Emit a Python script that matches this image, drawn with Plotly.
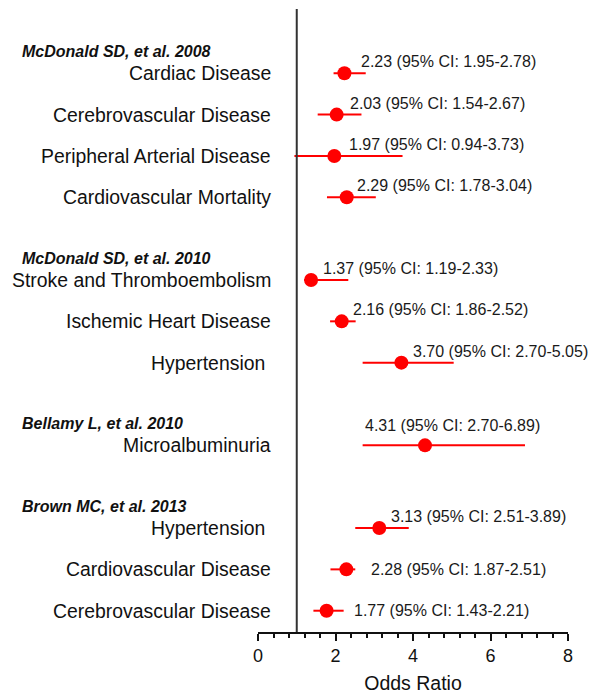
import plotly.graph_objects as go

# ---- data ----
study_headers = ["McDonald SD, et al. 2008", "McDonald SD, et al. 2010",
                 "Bellamy L, et al. 2010", "Brown MC, et al. 2013"]
group_outcomes = [
    ["Cardiac Disease", "Cerebrovascular Disease", "Peripheral Arterial Disease", "Cardiovascular Mortality"],
    ["Stroke and Thromboembolism", "Ischemic Heart Disease", "Hypertension\u00a0"],
    ["Microalbuminuria"],
    ["Hypertension\u00a0", "Cardiovascular Disease", "Cerebrovascular Disease"],
]
odds_ratio = [2.23, 2.03, 1.97, 2.29, 1.37, 2.16, 3.70, 4.31, 3.13, 2.28, 1.77]
ci_low = [1.95, 1.54, 0.94, 1.78, 1.19, 1.86, 2.70, 2.70, 2.51, 1.87, 1.43]
ci_high = [2.78, 2.67, 3.73, 3.04, 2.33, 2.52, 5.05, 6.89, 3.89, 2.51, 2.21]
x_ticks = [0, 2, 4, 6, 8]

# ---- label placement (style) ----
label_x = [2.61, 2.31, 2.29, 2.50, 1.62, 2.40, 3.95, 2.72, 3.39, 2.87, 2.42]
label_dy = [11.5, 11.5, 11.5, 11.5, 11.5, 11.5, 11.5, 20, 11.5, 0, 0]

# rows: each group followed by a blank row
rows, header_rows, labels = [], [], []
r = 0
for outs in group_outcomes:
    header_rows.append(r - 0.53)
    for o in outs:
        rows.append(r)
        labels.append(o)
        r += 1
    r += 1

FONT = "Arial, Liberation Sans, sans-serif"
RED = "#ff0000"

fig = go.Figure()

# CI lines
lx, ly = [], []
for lo, hi, y in zip(ci_low, ci_high, rows):
    lx += [lo, hi, None]
    ly += [y, y, None]
fig.add_trace(go.Scatter(x=lx, y=ly, mode="lines",
                         line=dict(color=RED, width=2), hoverinfo="skip",
                         showlegend=False))
# point estimates
fig.add_trace(go.Scatter(x=odds_ratio, y=rows, mode="markers",
                         marker=dict(color=RED, size=14, line=dict(width=0)),
                         showlegend=False))

# reference line at OR = 1
fig.add_shape(type="line", x0=1, x1=1, y0=0, y1=1, xref="x", yref="paper",
              line=dict(color="#333333", width=2))

annotations = []
for o, lo, hi, y, tx, dy in zip(odds_ratio, ci_low, ci_high, rows, label_x, label_dy):
    annotations.append(dict(x=tx, y=y, xref="x", yref="y", xanchor="left",
                            yanchor="middle", yshift=dy, showarrow=False,
                            text=f"{o:.2f} (95% CI: {lo:.2f}-{hi:.2f})",
                            font=dict(family=FONT, size=16, color="#1a1a1a")))
for lab, y in zip(labels, rows):
    annotations.append(dict(x=0, y=y, xref="paper", yref="y", xanchor="right",
                            yanchor="middle", xshift=15, showarrow=False,
                            text=lab, font=dict(family=FONT, size=19.4, color="#111111")))
for h, y in zip(study_headers, header_rows):
    annotations.append(dict(x=0, y=y, xref="paper", yref="y", xanchor="left",
                            yanchor="middle", xshift=-238, showarrow=False,
                            text=f"<b><i>{h}</i></b>",
                            font=dict(family=FONT, size=16, color="#111111")))

fig.update_layout(
    width=592, height=692,
    margin=dict(l=250, r=32, t=1, b=68),
    paper_bgcolor="white", plot_bgcolor="white",
    annotations=annotations,
    xaxis=dict(range=[0, 8], tickvals=x_ticks, ticktext=[str(t) for t in x_ticks],
               showgrid=False, zeroline=False,
               showline=True, linecolor="#111111", linewidth=1.5,
               ticks="outside", ticklen=7, tickwidth=1.5, tickcolor="#111111",
               minor=dict(dtick=0.4, tick0=0, ticks="outside", ticklen=4,
                          tickwidth=1.5, tickcolor="#111111", showgrid=False),
               tickfont=dict(family=FONT, size=18, color="#111111"),
               title=dict(text="Odds Ratio", standoff=11,
                          font=dict(family=FONT, size=19.5, color="#111111"))),
    yaxis=dict(range=[13.515, -1.555], visible=False, showgrid=False, zeroline=False),
)

fig.write_html("out.html")
